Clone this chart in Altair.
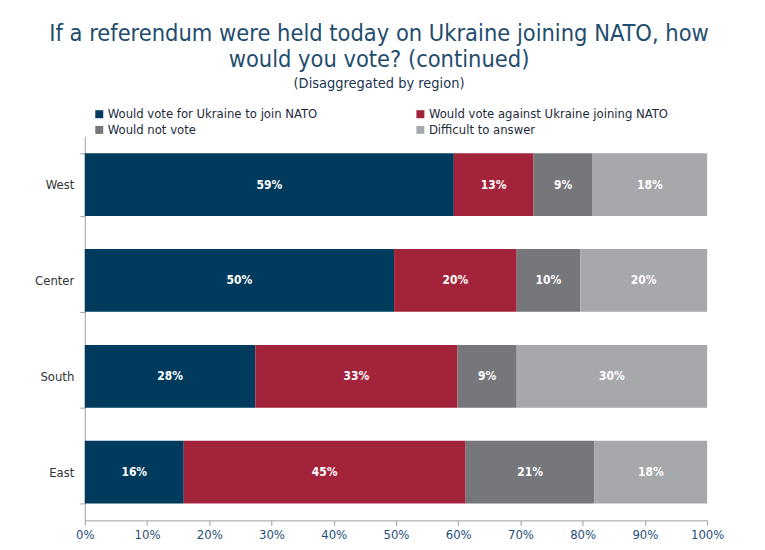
import altair as alt
import pandas as pd

regions = ["West", "Center", "South", "East"]
answers = [
    "Would vote for Ukraine to join NATO",
    "Would vote against Ukraine joining NATO",
    "Would not vote",
    "Difficult to answer",
]
colors = ["#003a5d", "#a2233a", "#76777b", "#a7a8ac"]
# legend reading order (column by column)
legend_order = [answers[0], answers[2], answers[1], answers[3]]
legend_colors = [colors[0], colors[2], colors[1], colors[3]]

# bar lengths (percent), per region, in answer order
west = [59.3, 12.8, 9.5, 18.4]
center = [49.7, 19.7, 10.2, 20.4]
south = [27.4, 32.5, 9.5, 30.6]
east = [15.9, 45.3, 20.7, 18.1]
# printed labels
west_lbl = [59, 13, 9, 18]
center_lbl = [50, 20, 10, 20]
south_lbl = [28, 33, 9, 30]
east_lbl = [16, 45, 21, 18]

rows = []
for reg, vals, lbls in zip(regions, [west, center, south, east],
                           [west_lbl, center_lbl, south_lbl, east_lbl]):
    for i, (a, v, l) in enumerate(zip(answers, vals, lbls)):
        rows.append({"region": reg, "answer": a, "value": v, "label": f"{l}%", "ord": i})
df = pd.DataFrame(rows)

FONT = "DejaVu Sans Condensed"

base = alt.Chart(df)

bars = base.mark_bar().encode(
    y=alt.Y("region:N", sort=regions, title=None,
            scale=alt.Scale(paddingInner=0.345, paddingOuter=0.175),
            axis=alt.Axis(tickBand="extent", labelFontSize=13, labelColor="#333333",
                          labelFont=FONT, labelPadding=6, tickSize=5,
                          domainColor="#a0a0a0", tickColor="#a0a0a0")),
    x=alt.X("value:Q", stack="zero", title=None,
            scale=alt.Scale(domain=[0, 100], nice=False),
            axis=alt.Axis(values=list(range(0, 101, 10)), labelExpr="datum.value + '%'",
                          grid=False, labelFontSize=13, labelColor="#1f4e79",
                          labelFont=FONT, tickSize=5, labelPadding=3, labelFlush=False,
                          domainColor="#a0a0a0", tickColor="#a0a0a0")),
    color=alt.Color("answer:N",
                    scale=alt.Scale(domain=legend_order, range=legend_colors),
                    legend=alt.Legend(title=None, orient="none", legendX=8, legendY=-29,
                                      columns=2, columnPadding=96, rowPadding=2,
                                      symbolType="square", symbolSize=64,
                                      symbolStrokeWidth=0, labelOffset=2,
                                      labelFontSize=13, labelFont=FONT,
                                      labelColor="#1c2b3c", labelLimit=400)),
    order=alt.Order("ord:Q"),
)

labels = base.transform_window(
    cum="sum(value)", groupby=["region"], sort=[alt.SortField("ord")]
).transform_calculate(
    mid="datum.cum - datum.value / 2"
).mark_text(color="white", fontWeight="bold", fontSize=12, font=FONT).encode(
    y=alt.Y("region:N", sort=regions),
    x=alt.X("mid:Q"),
    text="label:N",
)

chart = (bars + labels).properties(
    width=624, height=385,
    title=alt.TitleParams(
        text=["If a referendum were held today on Ukraine joining NATO, how",
              "would you vote? (continued)"],
        subtitle="(Disaggregated by region)",
        anchor="middle", frame="group", dx=-17, offset=17,
        font=FONT, fontSize=23.5, fontWeight="normal", color="#1f4d6e", lineHeight=26,
        subtitleFont=FONT, subtitleFontSize=14.5, subtitleColor="#1c3550",
        subtitlePadding=6,
    ),
    autosize="none",
    padding={"left": 77, "top": 128, "right": 50, "bottom": 40},
).configure_view(stroke=None)

chart.save("out.html", embed_options={"renderer": "svg", "actions": False})
